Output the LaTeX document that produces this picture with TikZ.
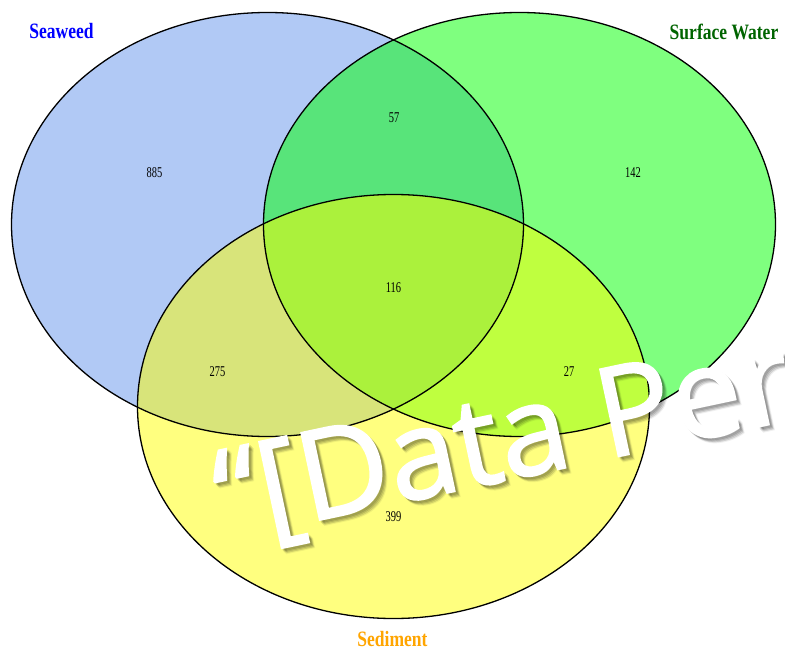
\documentclass[tikz,border=0pt]{standalone}
\usepackage{fontspec}
\setmainfont{Liberation Serif}
\newfontfamily\markfont[FakeBold=1.6]{Open Sans}
\definecolor{seaweedfill}{RGB}{100,149,237}
\definecolor{waterfill}{RGB}{0,255,0}
\definecolor{sedimentfill}{RGB}{255,255,0}
\definecolor{watertext}{RGB}{0,100,0}
\definecolor{sedimenttext}{RGB}{255,165,0}

\begin{document}
\begin{tikzpicture}[x=1bp,y=-1bp,
    setfill/.style={fill opacity=0.5},
    setline/.style={draw=black,line width=1.3bp},
    count/.style={font=\fontsize{15}{15}\selectfont,xscale=0.7,inner sep=0pt},
    title/.style={font=\bfseries\fontsize{22}{22}\selectfont,xscale=0.8,inner sep=0pt},
    stamptext/.style={font=\markfont\fontsize{125}{125}\selectfont,rotate=12,anchor=base west,inner sep=0pt},
    stampshade/.style={stamptext,text=black,opacity=#1},
  ]
    \useasboundingbox (0,0) rectangle (785,650);
    \fill[white] (0,0) rectangle (785,650);
    % sets, filled half see-through so the overlaps mix
    \fill[setfill,seaweedfill] (267.5,224.5) ellipse [x radius=256bp,y radius=212bp];
    \fill[setfill,waterfill] (519.5,224.5) ellipse [x radius=256bp,y radius=212bp];
    \fill[setfill,sedimentfill] (393.5,406.5) ellipse [x radius=256bp,y radius=212bp];
    \draw[setline] (267.5,224.5) ellipse [x radius=256bp,y radius=212bp];
    \draw[setline] (519.5,224.5) ellipse [x radius=256bp,y radius=212bp];
    \draw[setline] (393.5,406.5) ellipse [x radius=256bp,y radius=212bp];
    % set names
    \node[title,text=blue] (seaweed) at (61.5,31.5) {Seaweed};
    \node[title,text=watertext] (water) at (724,32) {Surface Water};
    \node[title,text=sedimenttext] (sediment) at (392.5,638.5) {Sediment};
    % region counts
    \node[count] (n885) at (154.5,173) {885};
    \node[count] (n57) at (394,118) {57};
    \node[count] (n142) at (633,172.5) {142};
    \node[count] (n116) at (393.5,287.5) {116};
    \node[count] (n275) at (217.5,372) {275};
    \node[count] (n27) at (569,372) {27};
    \node[count] (n399) at (393.5,516.5) {399};
    % stamp across the lower half, with a soft shadow
    \foreach \d/\o in {5/0.06,4/0.08,3/0.1,2/0.1}
      \node[stampshade=\o] at (225+\d,540+\d) {“[Data Per};
    \node[stamptext,text=white] (stamp) at (225,540) {“[Data Per};
\end{tikzpicture}
\end{document}
